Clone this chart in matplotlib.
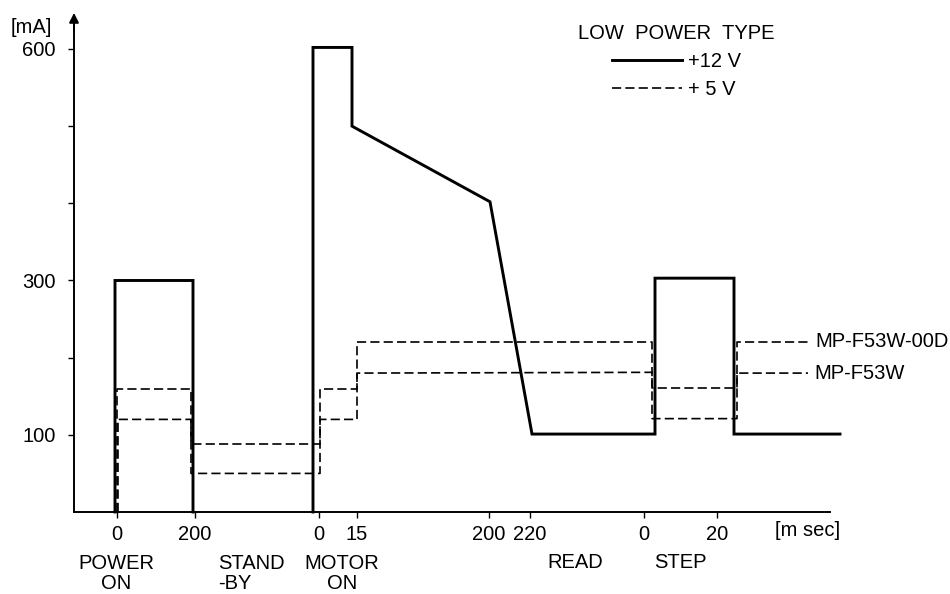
import matplotlib
matplotlib.use("Agg")
import numpy as np
import matplotlib.pyplot as plt
from matplotlib.lines import Line2D

plt.rcParams['font.family'] = ['Liberation Sans', 'DejaVu Sans']

# schematic time axis (positions along the drawn time line) and current in mA
tick_pos = [117, 195, 319, 357, 489, 530, 644, 717]
tick_labels = ['0', '200', '0', '15', '200', '220', '0', '20']

y_ticks = [100, 200, 300, 400, 500, 600]
y_tick_labels = ['100', '', '300', '', '', '600']

# +12 V supply current (nan = line lifted between phases)
x12 = [115, 115, 193, 193, np.nan, 313, 313, 352, 352, 490, 532, 655, 655, 734, 734, 840]
y12 = [0, 300, 300, 0, np.nan, 0, 602, 602, 500, 402, 101, 101, 303, 303, 101, 101]

# +5 V supply current, MP-F53W-00D
x5_00d = [117, 117, 191, 191, 320, 320, 357, 357, 652, 652, 737, 737, 810]
y5_00d = [0, 160, 160, 88, 88, 160, 160, 220, 220, 161, 161, 220, 220]

# +5 V supply current, MP-F53W
x5_w = [118, 118, 191, 191, 320, 320, 357, 357, 652, 652, 737, 737, 808]
y5_w = [0, 120, 120, 50, 50, 120, 120, 180, 181, 121, 121, 180, 180]

phase_names = ['POWER\nON', 'STAND\n-BY', 'MOTOR\nON', 'READ', 'STEP']
phase_pos = [116, 218, 342, 575, 680]

fs = 14.5
dash = (5.5, 2.5)

fig = plt.figure(figsize=(9.5, 5.94), dpi=100)
ax = fig.add_axes([74 / 950, (594 - 512) / 594, (830 - 74) / 950, (512 - 18) / 594])
ax.set_xlim(74, 830)
ax.set_ylim(0, 494 / 0.7717)

ax.plot(x12, y12, color='black', lw=2.1, solid_joinstyle='miter', clip_on=False)
ax.plot(x5_00d, y5_00d, color='black', lw=1.2, dashes=dash, clip_on=False)
ax.plot(x5_w, y5_w, color='black', lw=1.2, dashes=dash, clip_on=False)

ax.text(815, 221, 'MP-F53W-00D', fontsize=fs, va='center', ha='left')
ax.text(814, 180, 'MP-F53W', fontsize=fs, va='center', ha='left')

for s in ['top', 'right']:
    ax.spines[s].set_visible(False)
for s in ['left', 'bottom']:
    ax.spines[s].set_linewidth(1.4)

ax.set_yticks(y_ticks)
ax.set_yticklabels(y_tick_labels)
ax.set_xticks(tick_pos)
ax.set_xticklabels(tick_labels)
ax.tick_params(axis='y', direction='out', length=4, width=1.0, labelsize=fs, pad=9)
ax.tick_params(axis='x', direction='out', length=4, width=1.0, labelsize=fs, pad=5)

# arrow on the current axis
ax.annotate('', xy=(0, 1.016), xycoords='axes fraction', xytext=(0, 0.97),
            arrowprops=dict(arrowstyle='-|>', color='black', lw=1.4, mutation_scale=14))

ax.text(-0.056, 0.98, '[mA]', transform=ax.transAxes, fontsize=fs, ha='center', va='center')
ax.text(775, -0.037, '[m sec]', transform=ax.get_xaxis_transform(), fontsize=fs,
        ha='left', va='center')

for name, xp in zip(phase_names, phase_pos):
    if '\n' in name:
        ha = 'left' if name.startswith('STAND') else 'center'
        ax.text(xp, -0.1245, name, transform=ax.get_xaxis_transform(), fontsize=fs,
                ha=ha, va='center', multialignment=ha, linespacing=1.1)
    else:
        ax.text(xp, -0.103, name, transform=ax.get_xaxis_transform(), fontsize=fs,
                ha='center', va='center')

handles = [Line2D([], [], color='black', lw=2.1),
           Line2D([], [], color='black', lw=1.2, dashes=dash)]
ax.legend(handles, ['+12 V', '+ 5 V'], title='LOW  POWER  TYPE', title_fontsize=fs,
          fontsize=fs, frameon=False, loc='upper left',
          bbox_to_anchor=(578 / 950, 1 - 24 / 594), bbox_transform=fig.transFigure,
          borderpad=0, borderaxespad=0, handlelength=3.5, handletextpad=0.25,
          labelspacing=0.45)

fig.savefig('out.png', dpi=100)
